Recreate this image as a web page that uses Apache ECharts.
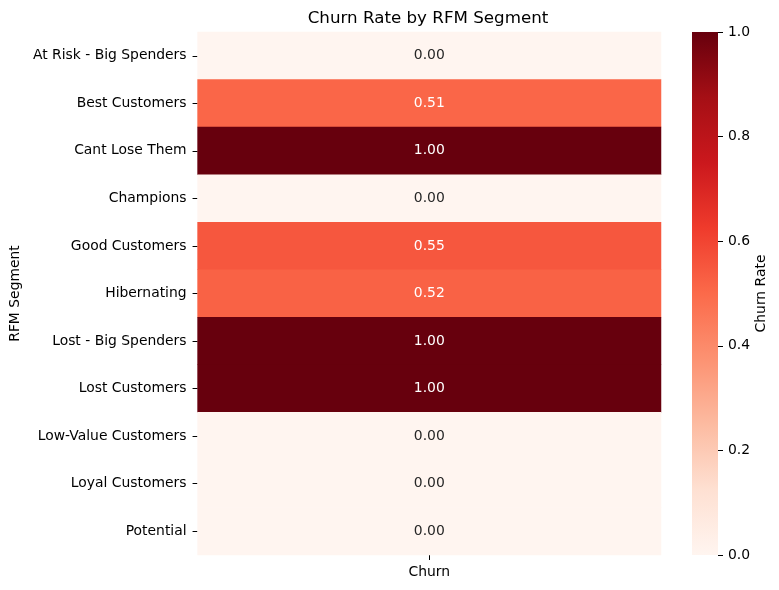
<!DOCTYPE html>
<html>
<head>
<meta charset="utf-8">
<script src="https://cdn.jsdelivr.net/npm/echarts@6/dist/echarts.min.js"></script>
<style>
  html, body { margin: 0; padding: 0; background: #fff; }
  #chart { width: 779px; height: 590px; }
</style>
</head>
<body>
<div id="chart"></div>
<script>
// segments, top to bottom
const segments = [
  "At Risk - Big Spenders",
  "Best Customers",
  "Cant Lose Them",
  "Champions",
  "Good Customers",
  "Hibernating",
  "Lost - Big Spenders",
  "Lost Customers",
  "Low-Value Customers",
  "Loyal Customers",
  "Potential"
];
const columns = ["Churn"];
const churnRate = [0.00, 0.51, 1.00, 0.00, 0.55, 0.52, 1.00, 1.00, 0.00, 0.00, 0.00];
const colorMin = 0;
const colorMax = 1;

// matplotlib "Reds"
const reds = ["#fff5f0", "#fee0d2", "#fcbba1", "#fc9272", "#fb6a4a", "#ef3b2c", "#cb181d", "#a50f15", "#67000d"];

const font = "DejaVu Sans";
const fs = 13.9;
const chart = echarts.init(document.getElementById("chart"));

const cells = churnRate.map((v, i) => ({
  value: [0, i, v],
  label: { color: v > 0.45 ? "#ffffff" : "#262626" }
}));

// gradient for the colour bar, top = max
const barGradient = new echarts.graphic.LinearGradient(0, 0, 0, 1,
  reds.map((c, i) => ({ offset: i / (reds.length - 1), color: reds[reds.length - 1 - i] })));

const tick = { show: true, length: 5, lineStyle: { color: "#000", width: 1 } };

chart.setOption({
  animation: false,
  textStyle: { fontFamily: font },
  title: {
    text: "Churn Rate by RFM Segment",
    left: 423,
    top: 5,
    textAlign: "center",
    textStyle: { fontFamily: font, fontSize: 16.7, fontWeight: "normal", color: "#000" }
  },
  grid: [
    { left: 193, top: 32, width: 468, height: 523 },
    { left: 692, top: 32, width: 26, height: 523 }
  ],
  xAxis: [
    {
      type: "category",
      data: columns,
      gridIndex: 0,
      position: "bottom",
      axisLine: { show: false },
      axisTick: Object.assign({ alignWithLabel: true }, tick),
      axisLabel: { fontFamily: font, fontSize: fs, color: "#000", margin: 10 },
      splitLine: { show: false }
    },
    {
      type: "category",
      data: ["bar"],
      gridIndex: 1,
      show: false
    }
  ],
  yAxis: [
    {
      type: "category",
      data: segments,
      inverse: true,
      gridIndex: 0,
      name: "RFM Segment",
      nameLocation: "middle",
      nameGap: 165,
      nameTextStyle: { fontFamily: font, fontSize: fs, color: "#000" },
      axisLine: { show: false },
      axisTick: Object.assign({ alignWithLabel: true }, tick),
      axisLabel: { fontFamily: font, fontSize: fs, color: "#000", margin: 11 },
      splitLine: { show: false }
    },
    {
      type: "value",
      gridIndex: 1,
      min: colorMin,
      max: colorMax,
      interval: 0.2,
      position: "right",
      name: "Churn Rate",
      nameLocation: "middle",
      nameGap: 36,
      nameRotate: 90,
      nameTextStyle: { fontFamily: font, fontSize: fs, color: "#000" },
      axisLine: { show: false },
      axisTick: tick,
      axisLabel: {
        fontFamily: font, fontSize: fs, color: "#000", margin: 10,
        formatter: v => v.toFixed(1)
      },
      splitLine: { show: false }
    }
  ],
  visualMap: {
    type: "continuous",
    show: false,
    min: colorMin,
    max: colorMax,
    seriesIndex: 0,
    inRange: { color: reds }
  },
  series: [
    {
      type: "heatmap",
      xAxisIndex: 0,
      yAxisIndex: 0,
      data: cells,
      label: {
        show: true,
        fontFamily: font,
        fontSize: fs,
        formatter: p => p.value[2].toFixed(2)
      },
      itemStyle: { borderWidth: 0 },
      emphasis: { disabled: true }
    },
    {
      // colour bar
      type: "bar",
      xAxisIndex: 1,
      yAxisIndex: 1,
      data: [colorMax],
      barWidth: "100%",
      silent: true,
      itemStyle: { color: barGradient }
    }
  ]
});
</script>
</body>
</html>
